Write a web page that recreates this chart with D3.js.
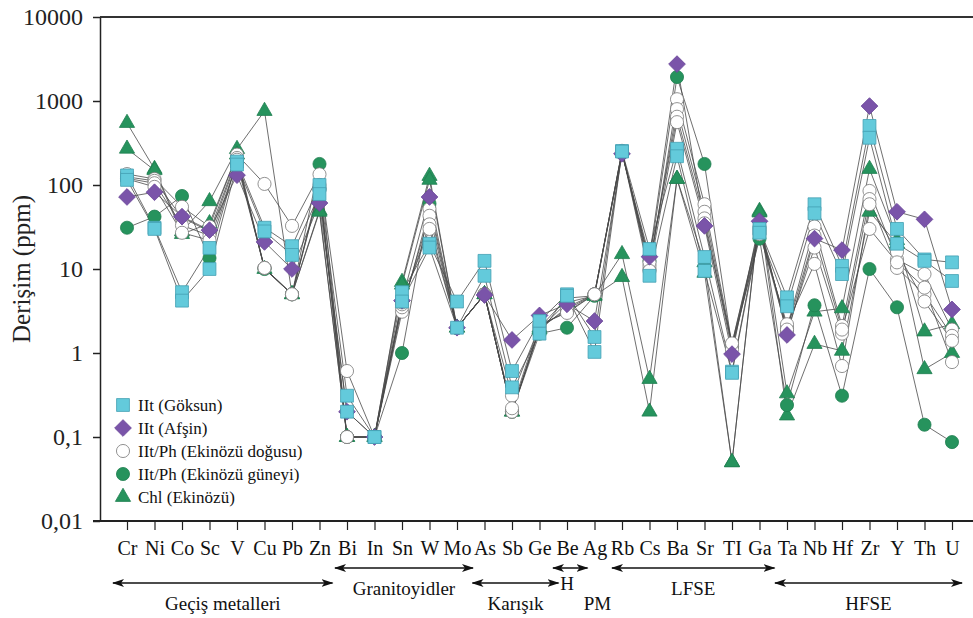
<!DOCTYPE html>
<html>
<head>
<meta charset="utf-8">
<script src="https://cdn.jsdelivr.net/npm/d3@7"></script>
<style>
  body { margin: 0; background: #fff; }
  svg { display: block; font-family: "Liberation Serif", "Times New Roman", serif; }
</style>
</head>
<body>
<svg id="chart" width="973" height="618"></svg>
<script>
// elements on the x axis
var elements = ["Cr","Ni","Co","Sc","V","Cu","Pb","Zn","Bi","In","Sn","W","Mo","As","Sb","Ge","Be","Ag",
                "Rb","Cs","Ba","Sr","TI","Ga","Ta","Nb","Hf","Zr","Y","Th","U"];

var yTickValues = [0.01, 0.1, 1, 10, 100, 1000, 10000];
var yTickLabels = ["0,01", "0,1", "1", "10", "100", "1000", "10000"];

// samples (ppm), same order as elements
var goksun1 = [130,31,5.3,17.8,190,31,18.7,100,0.31,0.1,5.3,20,4.1,12.5,0.61,2.4,5.0,1.55,254,17.3,270,13.9,0.6,30,4.6,59,10.9,505,30,13,12];
var goksun2 = [115,30,4.2,10,175,28,14.7,78,0.2,0.1,4.1,18,2.0,8.3,0.39,1.7,4.8,1.03,250,8.3,220,9.5,0.58,27,3.6,46,8.7,365,20,12.5,7.2];
var afsin = [72,82,42,29,131,21,10,61,0.2,0.1,4.2,72,2.0,4.9,1.43,2.8,3.8,2.4,235,14,2750,32.6,0.97,37,1.64,23,16.8,870,48,39,3.3];
var dogusu1 = [135,118,55,32,230,103,32.6,134,0.61,0.1,3.1,52,2.0,5.0,0.31,2.1,3.1,5.0,255,10,1050,59,1.28,30,2.0,32,2.1,85,13,8.7,1.9];
var dogusu2 = [125,112,41,28,210,10.3,5,100,0.1,0.1,3.5,43,2.0,5.0,0.2,2.0,3.3,5.0,250,11,800,48,1.2,28,1.8,18,1.7,68,10.3,5,1.6];
var dogusu3 = [120,105,33,25,200,10.3,5,92,0.1,0.1,3.8,34,2.0,5.0,0.2,1.9,3.5,5.0,245,12,650,40,1.1,26,2.2,11.5,0.7,59,16,4.1,1.4];
var dogusu4 = [118,95,27,22,180,10.3,5,88,0.1,0.1,4.0,30,2.0,5.0,0.22,2.2,3.0,5.0,248,9.5,560,35,1.3,32,1.9,25,1.9,30,12,6,0.78];
var guneyi = [31,42,74,13.5,200,10,5,178,0.1,0.1,1.0,60,2.0,5.0,0.2,1.7,2.0,4.8,240,12.5,1930,178,1.2,23,0.24,3.7,0.31,10,3.5,0.14,0.087];
var chl1 = [547,155,28,64,268,760,5,50,0.1,0.1,7,128,2.0,5.0,0.2,2.0,4.5,4.8,15,0.49,118,12,0.05,49,0.33,3.1,3.4,155,22,1.8,2.2];
var chl2 = [270,150,26,35,230,10,5,48,0.1,0.1,6.5,115,2.0,5.0,0.2,1.9,4.0,4.8,8,0.2,118,9,0.05,47,0.18,1.28,1.06,48,20,0.64,1.0];

var legendLabels = ["IIt (Göksun)", "IIt (Afşin)", "IIt/Ph (Ekinözü doğusu)", "IIt/Ph (Ekinözü güneyi)", "Chl (Ekinözü)"];

// element groups under the axis
var groups = [
  {label: "Geçiş metalleri", from: "Cr", to: "Zn"},
  {label: "Granitoyidler", from: "Bi", to: "Mo"},
  {label: "Karışık", from: "As", to: "Ge"},
  {label: "H", from: "Be", to: "Ag"},
  {label: "LFSE", from: "Rb", to: "Ga"},
  {label: "HFSE", from: "Ta", to: "U"}
];

// group key -> samples, drawn bottom to top
var groupKeys = ["chl", "guneyi", "dogusu", "afsin", "goksun"];
var samples = [
  {g: "chl", v: chl1}, {g: "chl", v: chl2},
  {g: "guneyi", v: guneyi},
  {g: "dogusu", v: dogusu1}, {g: "dogusu", v: dogusu2}, {g: "dogusu", v: dogusu3}, {g: "dogusu", v: dogusu4},
  {g: "afsin", v: afsin},
  {g: "goksun", v: goksun1}, {g: "goksun", v: goksun2}
];

var style = {
  goksun: {shape: d3.symbolSquare, size: 165, rot: 0, fill: "#63CADB", stroke: "#449fb3"},
  afsin:  {shape: d3.symbolSquare, size: 140, rot: 45, fill: "#7A54A9", stroke: "#6a479a"},
  dogusu: {shape: d3.symbolCircle, size: 135, rot: 0, fill: "#ffffff", stroke: "#777"},
  guneyi: {shape: d3.symbolCircle, size: 135, rot: 0, fill: "#26935D", stroke: "#1f7f50"},
  chl:    {shape: d3.symbolTriangle, size: 100, rot: 0, fill: "#26935D", stroke: "#1f7f50"}
};
var legendOrder = ["goksun", "afsin", "dogusu", "guneyi", "chl"];

var svg = d3.select("#chart");
var plotLeft = 100, plotRight = 973, plotTop = 17, plotBottom = 521;

var x = d3.scalePoint().domain(elements).range([127, 952]);
var y = d3.scaleLog().domain([0.01, 10000]).range([plotBottom, plotTop]);

// frame
svg.append("line").attr("x1", plotLeft).attr("x2", plotRight).attr("y1", plotTop).attr("y2", plotTop)
  .attr("stroke", "#333").attr("stroke-width", 2);
svg.append("line").attr("x1", plotLeft - 7).attr("x2", plotRight).attr("y1", plotBottom).attr("y2", plotBottom)
  .attr("stroke", "#222").attr("stroke-width", 2);

// y axis
var yAxis = d3.axisLeft(y)
  .tickValues(yTickValues)
  .tickFormat(function(d, i) { return yTickLabels[i]; })
  .tickSizeInner(7).tickSizeOuter(0).tickPadding(10);
var gy = svg.append("g").attr("transform", "translate(" + plotLeft + ",0)").call(yAxis);
gy.select(".domain").attr("stroke", "#222").attr("stroke-width", 1.5);
gy.selectAll(".tick line").attr("stroke", "#222").attr("stroke-width", 1.5);
gy.selectAll(".tick text").style("font-family", "Liberation Serif, serif").style("font-size", "24px").attr("fill", "#222");

svg.append("text")
  .attr("transform", "translate(24," + ((plotTop + plotBottom) / 2) + ") rotate(-90)")
  .attr("text-anchor", "middle")
  .attr("dominant-baseline", "middle")
  .style("font-size", "25px")
  .attr("fill", "#222")
  .text("Derişim (ppm)");

// x axis
var xAxis = d3.axisBottom(x).tickSizeInner(9).tickSizeOuter(0).tickPadding(11);
var gx = svg.append("g").attr("transform", "translate(0," + plotBottom + ")").call(xAxis);
gx.select(".domain").remove();
gx.selectAll(".tick line").attr("stroke", "#222").attr("stroke-width", 1.2);
gx.selectAll(".tick text").style("font-family", "Liberation Serif, serif").style("font-size", "20px").attr("fill", "#111");

// sample lines
var line = d3.line()
  .x(function(d, i) { return x(elements[i]); })
  .y(function(d) { return y(d); });

svg.append("g").selectAll("path")
  .data(samples)
  .join("path")
  .attr("d", function(d) { return line(d.v); })
  .attr("fill", "none")
  .attr("stroke", "#4a4a4a")
  .attr("stroke-width", 0.8);

// markers
function symbolPath(k) {
  return d3.symbol().type(style[k].shape).size(style[k].size)();
}
groupKeys.forEach(function(k) {
  var s = style[k];
  samples.filter(function(d) { return d.g === k; }).forEach(function(smp) {
    svg.append("g").selectAll("path")
      .data(smp.v)
      .join("path")
      .attr("d", symbolPath(k))
      .attr("transform", function(d, i) {
        return "translate(" + x(elements[i]) + "," + y(d) + ") rotate(" + s.rot + ")";
      })
      .attr("fill", s.fill)
      .attr("stroke", s.stroke)
      .attr("stroke-width", 0.8);
  });
});

// legend
var legend = svg.append("g");
legendOrder.forEach(function(k, i) {
  var s = style[k];
  var ly = 405 + i * 23;
  legend.append("path")
    .attr("d", symbolPath(k))
    .attr("transform", "translate(123," + ly + ") rotate(" + s.rot + ")")
    .attr("fill", s.fill)
    .attr("stroke", s.stroke)
    .attr("stroke-width", 0.8);
  legend.append("text")
    .attr("x", 138)
    .attr("y", ly)
    .attr("dy", "0.35em")
    .style("font-size", "17px")
    .attr("fill", "#111")
    .text(legendLabels[i]);
});

// group arrows
svg.append("defs").append("marker")
  .attr("id", "arrow")
  .attr("markerUnits", "userSpaceOnUse")
  .attr("viewBox", "0 0 12 8")
  .attr("refX", 11).attr("refY", 4)
  .attr("markerWidth", 12).attr("markerHeight", 8)
  .attr("orient", "auto-start-reverse")
  .append("path")
  .attr("d", "M0,0 L12,4 L0,8 L3,4 Z")
  .attr("fill", "#111");

var arrowRow = {"Geçiş metalleri": 583, "Granitoyidler": 568, "Karışık": 583, "H": 568, "LFSE": 568, "HFSE": 583};
var pad = {"Geçiş metalleri": [14, 13], "Granitoyidler": [12, 16], "Karışık": [12, 19], "H": [14, -7], "LFSE": [10, 15], "HFSE": [12, 10]};

groups.forEach(function(gr) {
  var x1 = x(gr.from) - pad[gr.label][0];
  var x2 = x(gr.to) + pad[gr.label][1];
  var ay = arrowRow[gr.label];
  svg.append("line")
    .attr("x1", x1).attr("x2", x2).attr("y1", ay).attr("y2", ay)
    .attr("stroke", "#111").attr("stroke-width", 1.5)
    .attr("marker-start", "url(#arrow)")
    .attr("marker-end", "url(#arrow)");
  if (gr.label === "H") {
    svg.append("text").attr("x", x(gr.from)).attr("y", 590).attr("text-anchor", "middle")
      .style("font-size", "19px").attr("fill", "#111").text("H");
    svg.append("text").attr("x", x(gr.to) + 3).attr("y", 610).attr("text-anchor", "middle")
      .style("font-size", "19px").attr("fill", "#111").text("PM");
  } else {
    svg.append("text")
      .attr("x", (x1 + x2) / 2)
      .attr("y", ay + 27)
      .attr("text-anchor", "middle")
      .style("font-size", "19px")
      .attr("fill", "#111")
      .text(gr.label);
  }
});
</script>
</body>
</html>
